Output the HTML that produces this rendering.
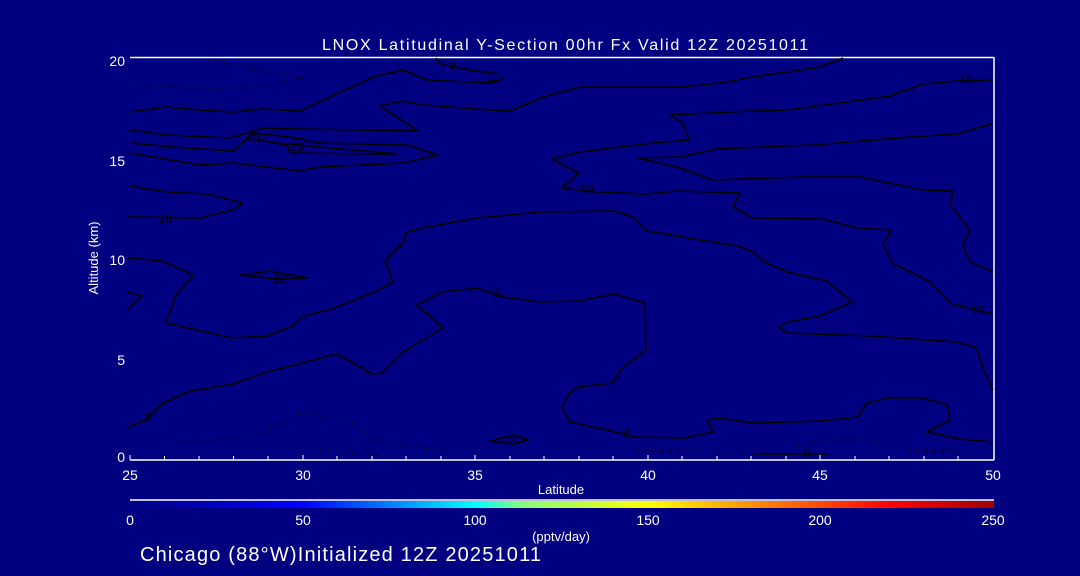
<!DOCTYPE html>
<html><head><meta charset="utf-8"><style>
html,body{margin:0;padding:0;background:#000080;}
svg{display:block}
text{font-family:"Liberation Sans",sans-serif;fill:#fff;}
</style></head><body>
<svg width="1080" height="576" viewBox="0 0 1080 576" xmlns="http://www.w3.org/2000/svg">
<defs>
<linearGradient id="cb" x1="0" x2="1" y1="0" y2="0">
<stop offset="0" stop-color="#000080"/>
<stop offset="0.2" stop-color="#0000ff"/>
<stop offset="0.4" stop-color="#00ffff"/>
<stop offset="0.45" stop-color="#80ff80"/>
<stop offset="0.6" stop-color="#ffff00"/>
<stop offset="0.72" stop-color="#ff9000"/>
<stop offset="0.88" stop-color="#ff0000"/>
<stop offset="1" stop-color="#a00000"/>
</linearGradient>
</defs>
<rect width="1080" height="576" fill="#000080"/>
<text x="322" y="50" font-size="16" textLength="486" lengthAdjust="spacing">LNOX Latitudinal Y-Section 00hr  Fx Valid 12Z 20251011</text>
<g stroke="#fff" stroke-width="1.5" fill="none">
<line x1="130" y1="57.5" x2="994" y2="57.5"/>
<line x1="994" y1="57" x2="994" y2="460"/>
<line x1="130" y1="460" x2="994" y2="460"/>
<line x1="130" y1="500" x2="994" y2="500"/>
</g>
<g stroke="#fff" stroke-width="1">
<path d="M130 460v-5M164.5 460v-4M199 460v-4M233.5 460v-4M268 460v-4M303 460v-5M337 460v-4M372 460v-4M406 460v-4M441 460v-4M475 460v-5M510 460v-4M544 460v-4M579 460v-4M613 460v-4M648 460v-5M682 460v-4M717 460v-4M751 460v-4M786 460v-4M820 460v-5M855 460v-4M889 460v-4M924 460v-4M958 460v-4"/>
</g>
<rect x="130" y="501" width="864" height="7" fill="url(#cb)"/>
<g font-size="14" text-anchor="end">
<text x="125" y="66">20</text><text x="125" y="166">15</text><text x="125" y="265">10</text><text x="125" y="365">5</text><text x="125" y="462">0</text>
</g>
<text transform="translate(98,258) rotate(-90)" font-size="13" text-anchor="middle">Altitude (km)</text>
<g font-size="14" text-anchor="middle">
<text x="130" y="480">25</text><text x="303" y="480">30</text><text x="475" y="480">35</text><text x="648" y="480">40</text><text x="820" y="480">45</text><text x="993" y="480">50</text>
<text x="561" y="494" font-size="13">Latitude</text>
<text x="130" y="525">0</text><text x="303" y="525">50</text><text x="475" y="525">100</text><text x="648" y="525">150</text><text x="820" y="525">200</text><text x="993" y="525">250</text>
<text x="561" y="541" font-size="13">(pptv/day)</text>
</g>
<text x="140" y="561" font-size="20" textLength="401" lengthAdjust="spacing">Chicago (88°W)Initialized 12Z 20251011</text>
<g stroke="#000" stroke-width="1.6" fill="none" stroke-linejoin="round">
<polyline points="436,58 441,64 470,70 500,74"/>
<polyline points="130,112 167,107 200,110 233,112 263,109 300,111 330,97 373,77 403,70 427,80 490,83 503,79 480,83"/>
<polyline points="130,130 167,135 230,138 263,128 303,129 418,131 380,106 403,101 423,105 490,110 510,111 543,97 580,87 630,87 683,87 720,83 753,77 820,67 843,58"/>
<polyline points="130,143 173,147 233,151 253,133 290,137 320,143 407,145 438,155 403,163 320,167 300,171 233,163 200,165 130,153"/>
<polyline points="257,140 287,145 290,153 373,154 397,154 320,147 277,143"/>
<polyline points="130,186 167,192 207,194 243,203 233,210 200,218 128,217"/>
<polyline points="993,80 957,81 923,84 890,96 847,102 787,110 753,111 670,115 683,123 689,140 653,143 580,152 552,159 579,173 562,188 597,192 647,194 677,191 740,193 733,207 753,218 823,219 857,228 891,230 883,244 892,263 930,282 952,304 993,314"/>
<polyline points="993,123 958,134 923,136 813,145 717,149 680,157 638,158 680,168 713,180 803,177 860,177 923,190 953,191 950,205 970,230 963,245 970,262 993,272"/>
<polyline points="128,258 163,261 193,275 175,297 166,323 232,338 267,336 293,326 302,317 337,307 372,293 393,282 385,261 403,243 407,232 427,227 477,218 540,212 615,211 633,217 647,231 700,240 738,246 753,252 765,262 787,272 827,281 852,302 820,316 787,322 779,327 787,333 870,336 957,342 976,348 985,373 993,390"/>
<polyline points="240,275 270,271 307,278 277,279 240,275"/>
<polyline points="128,292 142,296 128,309"/>
<polyline points="128,428 148,418 163,403 190,391 233,384 267,372 337,354 372,374 382,373 403,352 443,328 417,305 442,292 477,288 503,297 540,302 578,301 615,294 645,303 646,350 620,370 613,383 578,387 570,392 562,408 570,422 620,433 635,437 683,438 713,432 707,420 720,418 753,423 820,421 858,417 867,403 887,398 923,398 947,405 950,420 927,432 960,439 993,442"/>
<polyline points="490,441 513,435 528,440 513,444 490,441"/>
<polyline points="753,454 828,454"/>
</g>
<g stroke="#000" stroke-width="1.2" fill="none" stroke-dasharray="2 6">
<polyline points="207,59 303,78"/>
<polyline points="133,85 233,89 303,78"/>
<polyline points="175,444 263,433 303,412 353,423 373,440 450,452"/>
<polyline points="638,450 743,452"/>
<polyline points="797,445 847,438 883,443"/>
<polyline points="910,451 963,450"/>
<polyline points="320,450 380,455"/>
</g>
<g font-size="12" text-anchor="middle">
<text x="452" y="69" style="fill:#000">0</text>
<text x="253" y="141" style="fill:#000">10</text>
<text x="295" y="151" style="fill:#000">-20</text>
<text x="165" y="223" style="fill:#000">10</text>
<text x="280" y="283" style="fill:#000">10</text>
<text x="587" y="194" style="fill:#000">10</text>
<text x="966" y="84" style="fill:#000">10</text>
<text x="978" y="314" style="fill:#000">10</text>
<text x="496" y="297" style="fill:#000">0</text>
<text x="148" y="422" style="fill:#000">0</text>
<text x="627" y="438" style="fill:#000">0</text>
<text x="512" y="445" style="fill:#000">0</text>
<text x="807" y="457" style="fill:#000">0</text>
</g>
</svg>
</body></html>
